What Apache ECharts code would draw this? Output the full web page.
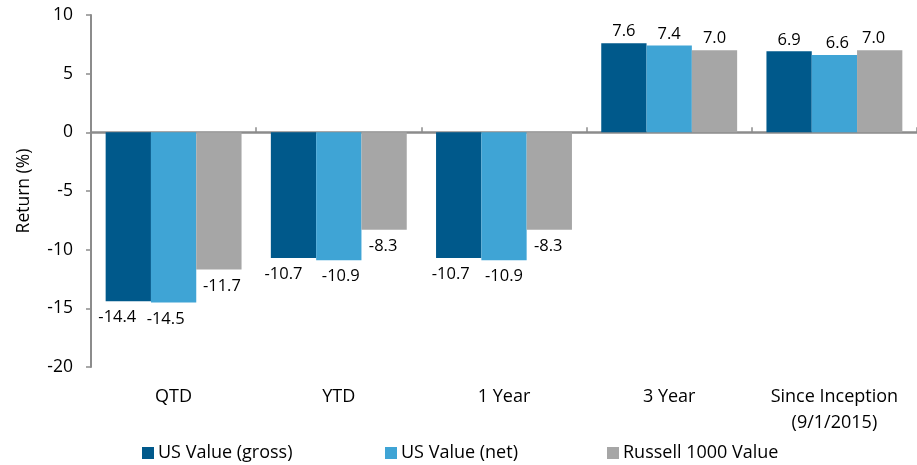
<!DOCTYPE html>
<html>
<head>
<meta charset="utf-8">
<script src="https://cdn.jsdelivr.net/npm/echarts@6/dist/echarts.min.js"></script>
<style>html,body{margin:0;padding:0;background:#fff}#c{width:917px;height:465px}</style>
</head>
<body>
<div id="c"></div>
<script>
var categories = ['QTD', 'YTD', '1 Year', '3 Year', 'Since Inception\n(9/1/2015)'];
var seriesNames = ['US Value (gross)', 'US Value (net)', 'Russell 1000 Value'];
var gross = [-14.4, -10.7, -10.7, 7.6, 6.9];
var net = [-14.5, -10.9, -10.9, 7.4, 6.6];
var russell = [-11.7, -8.3, -8.3, 7.0, 7.0];
var yTicks = [-20, -15, -10, -5, 0, 5, 10];

var colors = ['#00598B', '#3FA4D5', '#A6A6A6'];
var FONT = 'Open Sans';
var legendLefts = [142, 385, 607];
var labelOffsets = [
  [[-11, 0], [-10, 0], [-8, 0], [0, 0], [0, 0]],
  [[-8, 0], [2, 0], [0, 0], [0, 0], [3, 0]],
  [[3, 0], [-1, 0], [-1, 0], [0, 0], [-6, 0]]
];

function makeData(arr, si) {
  return arr.map(function (v, i) {
    return {
      value: v,
      label: {
        position: v < 0 ? 'bottom' : 'top',
        distance: v < 0 ? 8 : 3,
        offset: labelOffsets[si][i]
      }
    };
  });
}

var chart = echarts.init(document.getElementById('c'), null, {renderer: 'canvas'});
var seriesData = [gross, net, russell];
chart.setOption({
  animation: false,
  textStyle: {fontFamily: FONT},
  grid: {left: 91, right: -4, top: 15, bottom: 98, containLabel: false},
  legend: seriesNames.map(function (n, i) {
    return {
      bottom: 3,
      left: legendLefts[i],
      padding: 0,
      itemWidth: 12,
      itemHeight: 12,
      icon: 'rect',
      textStyle: {fontFamily: FONT, fontSize: 18, color: '#000', padding: [0, 0, 0, -1]},
      data: [n]
    };
  }),
  xAxis: [{
    type: 'category',
    data: categories,
    position: 'bottom',
    axisLine: {show: false, onZero: false},
    axisTick: {show: false},
    axisLabel: {interval: 0, fontFamily: FONT, fontSize: 18, color: '#000', margin: 17, lineHeight: 26}
  }, {
    type: 'category',
    data: categories,
    axisLine: {show: true, onZero: true, lineStyle: {color: '#8C8C8C', width: 2.5}},
    axisTick: {show: true, interval: 0, length: 5, lineStyle: {color: '#8C8C8C', width: 1.5}},
    axisLabel: {show: false}
  }],
  yAxis: {
    type: 'value',
    min: -20,
    max: 10,
    interval: 5,
    name: 'Return (%)',
    nameLocation: 'middle',
    nameGap: 58,
    nameTextStyle: {fontFamily: FONT, fontSize: 17.5, color: '#000'},
    axisLine: {show: true, onZero: false, lineStyle: {color: '#8C8C8C', width: 2}},
    axisTick: {show: true, length: 5, lineStyle: {color: '#8C8C8C', width: 1.5}},
    splitLine: {show: false},
    axisLabel: {fontFamily: FONT, fontSize: 17.5, color: '#000', margin: 18,
      formatter: function (v) { return yTicks.indexOf(v) >= 0 ? String(v) : ''; }}
  },
  series: seriesData.map(function (arr, si) {
    return {
      name: seriesNames[si],
      type: 'bar',
      xAxisIndex: 0,
      barWidth: 45.3,
      barGap: '0%',
      itemStyle: {color: colors[si]},
      label: {
        show: true,
        fontFamily: FONT,
        fontSize: 16.5,
        color: '#000',
        formatter: function (p) { return p.value.toFixed(1); }
      },
      data: makeData(arr, si)
    };
  })
});
</script>
</body>
</html>
